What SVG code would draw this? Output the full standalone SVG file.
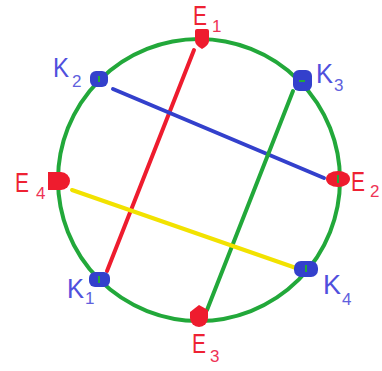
<svg xmlns="http://www.w3.org/2000/svg" width="382" height="371" viewBox="0 0 382 371">
<style>
.e{fill:#ee1c2e}
.k{fill:#3340cc}
.dot{stroke:#22a83a;stroke-width:2}
.le{font-family:"Liberation Sans",Arial,sans-serif;font-size:28px;fill:#ee2233}
.se{font-family:"Liberation Sans",Arial,sans-serif;font-size:17px;fill:#ee3355}
.lk{font-family:"Liberation Sans",Arial,sans-serif;font-size:28px;fill:#5050dd}
.sk{font-family:"Liberation Sans",Arial,sans-serif;font-size:17px;fill:#6060dd}
</style>
<rect x="0" y="0" width="382" height="371" fill="#ffffff"/>
<g id="connectors" stroke-width="4" stroke-linecap="round" fill="none">
<circle cx="199" cy="180" r="141" fill="none" stroke="#22a83a"/>
<line x1="194" y1="50" x2="107" y2="271" stroke="#ee1c2e"/>
<line x1="113" y1="89" x2="324" y2="178" stroke="#3340cc"/>
<line x1="293" y1="91" x2="207" y2="310" stroke="#22a83a"/>
<line x1="72" y1="190" x2="296" y2="268" stroke="#f2e200"/>
</g>
<g id="E1">
<path class="e" d="M195,31 q0,-2 2,-2 h10 q2,0 2,2 v10 q0,4 -7,8 q-7,-4 -7,-8 z"/>
<text x="193" y="25" class="le" textLength="14" lengthAdjust="spacingAndGlyphs">E</text><text x="212" y="32" class="se">1</text>
</g>
<g id="E2">
<ellipse class="e" cx="338" cy="179" rx="12" ry="8"/>
<line x1="338" y1="175" x2="338" y2="183" class="dot"/>
<text x="351" y="191" class="le" textLength="14" lengthAdjust="spacingAndGlyphs">E</text><text x="370" y="197" class="se">2</text>
</g>
<g id="E3">
<path class="e" d="M190,312 l9,-7 l9,5 v8 a9,9 0 0 1 -18,0 z"/>
<text x="192" y="353" class="le" textLength="14" lengthAdjust="spacingAndGlyphs">E</text><text x="210" y="362" class="se">3</text>
</g>
<g id="E4">
<path class="e" d="M48,172 h13 a9,9 0 0 1 0,18 h-13 z"/>
<text x="15" y="192" class="le" textLength="14" lengthAdjust="spacingAndGlyphs">E</text><text x="36" y="199" class="se">4</text>
</g>
<g id="K1">
<rect class="k" x="89" y="272" width="21" height="15" rx="6"/>
<line x1="99" y1="276" x2="99" y2="283" class="dot"/>
<text x="67" y="298" class="lk" textLength="17" lengthAdjust="spacingAndGlyphs">K</text><text x="85" y="304" class="sk">1</text>
</g>
<g id="K2">
<rect class="k" x="90" y="71" width="18" height="16" rx="6"/>
<line x1="99" y1="76" x2="99" y2="82" class="dot"/>
<text x="53" y="77" class="lk" textLength="16" lengthAdjust="spacingAndGlyphs">K</text><text x="72" y="87" class="sk">2</text>
</g>
<g id="K3">
<rect class="k" x="293" y="70" width="19" height="21" rx="6"/>
<line x1="299" y1="81" x2="305" y2="81" class="dot"/>
<text x="316" y="83" class="lk" textLength="17" lengthAdjust="spacingAndGlyphs">K</text><text x="334" y="91" class="sk">3</text>
</g>
<g id="K4">
<rect class="k" x="294" y="261" width="24" height="16" rx="7"/>
<line x1="306" y1="265" x2="306" y2="272" class="dot"/>
<text x="323" y="294" class="lk" textLength="18" lengthAdjust="spacingAndGlyphs">K</text><text x="342" y="305" class="sk">4</text>
</g>
</svg>
